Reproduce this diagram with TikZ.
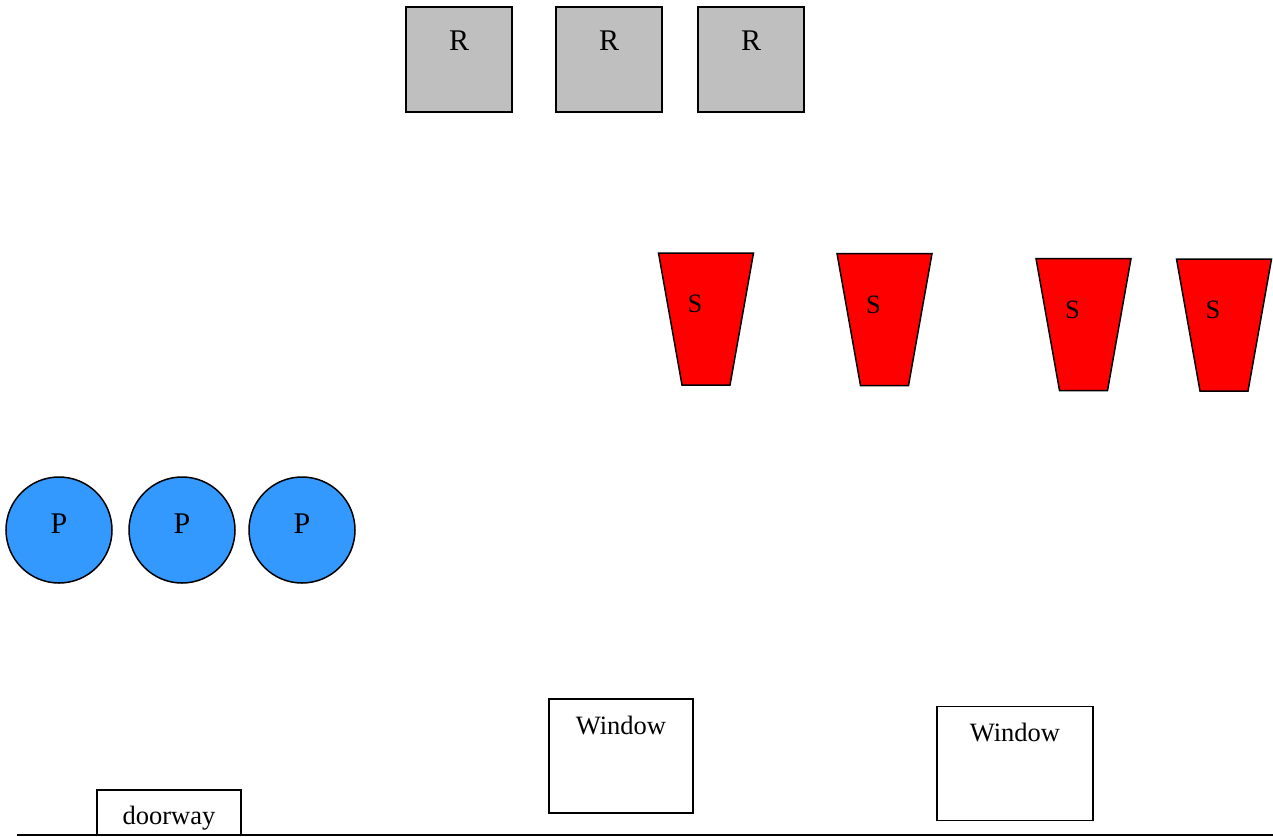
\documentclass[tikz,border=0pt]{standalone}
\usepackage{fontspec}
\setmainfont{Liberation Serif}
\definecolor{rgray}{HTML}{BFBFBF}
\definecolor{pblue}{HTML}{3399FF}
\tikzset{
  x=1pt,y=-1pt,
  every node/.style={inner sep=0pt,outer sep=0pt},
  shp/.style={draw=black,line width=1.5pt,line join=miter},
  flr/.style={draw=black,line width=2pt,line join=miter},
  lab/.style={font=\fontsize{30}{34}\selectfont,anchor=center,text=black},
  slab/.style={font=\fontsize{26.5}{30}\selectfont,anchor=center,text=black},
  wlab/.style={font=\fontsize{26.5}{30}\selectfont,anchor=center,text=black}
}
\newcommand{\rbox}[3]{\node[shp,fill=rgray,minimum width=106pt,minimum height=105pt,anchor=north west] (#1) at (#2,#3) {};
 \node[lab] (#1t) at (#2+53,#3+33.5) {R};}
\newcommand{\pcirc}[3]{\node[shp,fill=pblue,circle,minimum size=106pt,anchor=center] (#1) at (#2,#3) {};
 \node[lab] (#1t) at (#2,#3-6.5) {P};}
\newcommand{\strap}[3]{\filldraw[shp,fill=red] (#2,#3) -- (#2+95,#3) -- (#2+71.5,#3+132) -- (#2+23.5,#3+132) -- cycle;
 \node[slab] (#1t) at (#2+36.5,#3+51) {S};}
\begin{document}
\begin{tikzpicture}
\useasboundingbox (0,0) rectangle (1273,836);
\rbox{r1}{406}{7}
\rbox{r2}{556}{7}
\rbox{r3}{698}{7}
\strap{s1}{658.5}{253}
\strap{s2}{837}{253.5}
\strap{s3}{1036}{258.5}
\strap{s4}{1176.5}{259}
\pcirc{p1}{59}{530}
\pcirc{p2}{182}{530}
\pcirc{p3}{302}{530}
\node[shp,minimum width=144pt,minimum height=114pt,anchor=north west] (w1) at (549,699) {};
\node[wlab] (w1t) at (621,725) {Window};
\node[shp,minimum width=156pt,minimum height=114pt,anchor=north west] (w2) at (937,706.5) {};
\node[wlab] (w2t) at (1015,732) {Window};
\coordinate (fl) at (17,834.5);
\coordinate (fr) at (1273,834.5);
\coordinate (da) at (97,834.5);
\coordinate (db) at (97,789.5);
\coordinate (dc) at (241,789.5);
\coordinate (dd) at (241,834.5);
\draw[flr] (fl) -- (fr);
\draw[flr] (da) -- (db) -- (dc) -- (dd);
\node[wlab] (dt) at (169,818) {doorway};
\end{tikzpicture}
\end{document}
